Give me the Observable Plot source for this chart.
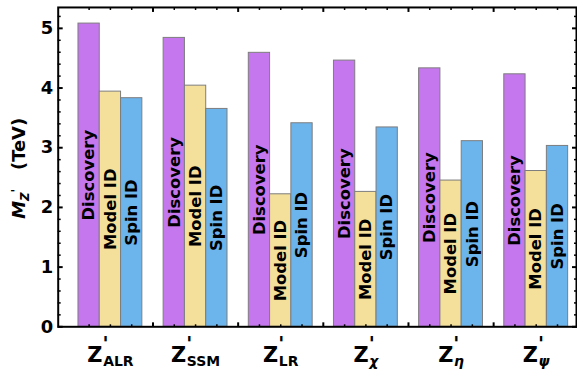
<!DOCTYPE html>
<html><head><meta charset="utf-8">
<script src="https://cdn.jsdelivr.net/npm/d3@7"></script>
<script src="https://cdn.jsdelivr.net/npm/@observablehq/plot@0.6"></script>
<style>
html,body{margin:0;padding:0;background:#fff;overflow:hidden;}
</style></head><body><div id="chart"></div>
<script>
// ---- data ----
const models = ["ALR", "SSM", "LR", "χ", "η", "ψ"];
const greek = [false, false, false, true, true, true];
const series = ["Discovery", "Model ID", "Spin ID"];
const discovery = [5.08, 4.84, 4.59, 4.46, 4.33, 4.23];
const modelID = [3.94, 4.04, 2.22, 2.26, 2.45, 2.61];
const spinID = [3.83, 3.65, 3.41, 3.34, 3.11, 3.03];
const colors = ["#c577ee", "#f4df9b", "#6cb4ec"];
const yMajor = [0, 1, 2, 3, 4, 5];

// ---- derived tables ----
const values = [discovery, modelID, spinID];
const rows = [];
models.forEach((m, i) => {
  values.forEach((arr, j) => {
    const a = i - 0.375 + 0.25 * j;
    rows.push({model: m, i, series: series[j], value: arr[i], xa: a, xb: a + 0.25, xc: a + 0.125});
  });
});
const yMinor = d3.range(0, 5.3, 0.2).map(v => +v.toFixed(1)).filter(v => !Number.isInteger(v));
const xMajor = d3.range(0, models.length).map(i => i + 0.5);
const xMinor = d3.range(0, models.length).flatMap(i => [i - 0.25, i, i + 0.25]);

const W = 580, H = 373;
const fLeft = 58, fRight = 579, fTop = 7, fBottom = 328;

const plot = Plot.plot({
  width: W, height: H,
  marginLeft: fLeft, marginRight: W - fRight, marginTop: fTop, marginBottom: H - fBottom,
  x: {domain: [-0.613, 5.473], axis: null},
  y: {domain: [0, (fBottom - fTop) / 60], axis: null},
  color: {domain: series, range: colors},
  style: {fontFamily: "DejaVu Sans", background: "white", color: "black"},
  marks: [
    Plot.rectY(rows, {x1: "xa", x2: "xb", y1: 0, y2: "value", fill: "series", stroke: "#7d7d7d", strokeWidth: 1}),
    Plot.text(rows, {x: "xc", y: d => d.value / 2, text: "series", rotate: -90, fontSize: 16.5, fontWeight: "bold", fill: "black"}),
    // y ticks left/right
    Plot.axisY(yMajor, {anchor: "left", tickSize: -5, strokeWidth: 2, fill: "none", label: null}),
    Plot.axisY(yMinor, {anchor: "left", tickSize: -3, strokeWidth: 1.5, fill: "none", label: null}),
    Plot.axisY(yMajor, {anchor: "right", tickSize: -5, strokeWidth: 2, fill: "none", label: null}),
    Plot.axisY(yMinor, {anchor: "right", tickSize: -3, strokeWidth: 1.5, fill: "none", label: null}),
    Plot.axisY(yMajor, {anchor: "left", tickSize: 0, tickPadding: 5, tickFormat: d3.format("d"), fontSize: 18, fontWeight: "bold", label: null}),
    // x ticks bottom/top
    Plot.axisX(xMajor, {anchor: "bottom", tickSize: -4, strokeWidth: 2, fill: "none", label: null}),
    Plot.axisX(xMinor, {anchor: "bottom", tickSize: -2, strokeWidth: 1.5, fill: "none", label: null}),
    Plot.axisX(xMajor, {anchor: "top", tickSize: -4, strokeWidth: 2, fill: "none", label: null}),
    Plot.axisX(xMinor, {anchor: "top", tickSize: -2, strokeWidth: 1.5, fill: "none", label: null}),
    // x category labels
    Plot.text(models, {x: (d, i) => i, frameAnchor: "bottom", dy: 35, lineAnchor: "bottom", textAnchor: "middle", text: d => "Z'" + d, fontSize: 21, fontWeight: "bold", fill: "black"}),
    // y title
    Plot.text(["M_Z (TeV)"], {frameAnchor: "left", dx: -39, dy: 52, rotate: -90, textAnchor: "start", fontSize: 18, fontWeight: "bold", fill: "black"}),
    Plot.frame({stroke: "black", strokeWidth: 2})
  ]
});

// rich text: subscripts / primes
d3.select(plot).selectAll("text").each(function () {
  const s = this.textContent;
  const t = d3.select(this);
  const i = models.findIndex(m => s === "Z'" + m);
  if (i >= 0) {
    t.text(null);
    t.append("tspan").text("Z");
    t.append("tspan").attr("dy", -11.5).attr("font-size", 20).text("'");
    t.append("tspan").attr("dx", -5.5).attr("dy", 15.5).attr("font-size", 14)
      .attr("font-style", greek[i] ? "italic" : null).text(models[i]);
  } else if (s === "M_Z (TeV)") {
    t.text(null);
    t.append("tspan").attr("font-style", "italic").text("M");
    t.append("tspan").attr("font-style", "italic").attr("font-size", 12).attr("dy", 4).text("Z");
    t.append("tspan").attr("font-size", 12).attr("dy", -9).text("'");
    t.append("tspan").attr("dy", 5).text("\u00A0\u00A0\u00A0(TeV)");
  }
});

document.getElementById("chart").appendChild(plot);
</script></body></html>
